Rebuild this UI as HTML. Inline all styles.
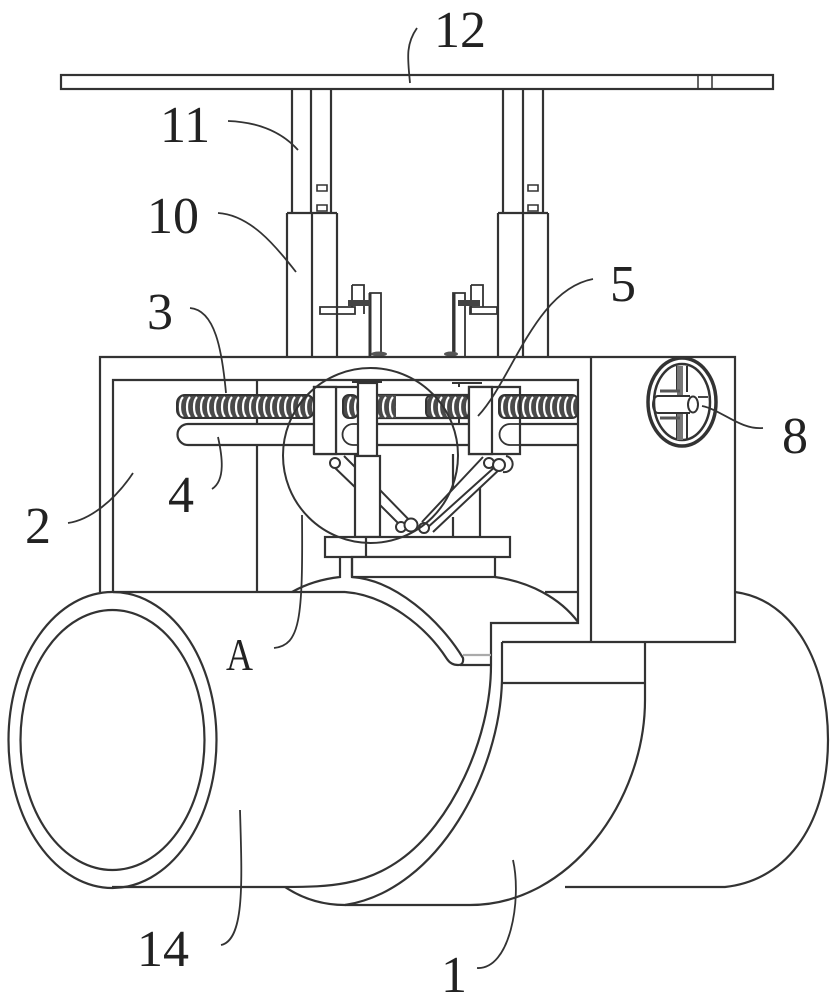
<!DOCTYPE html>
<html>
<head>
<meta charset="utf-8">
<style>
html,body{margin:0;padding:0;background:#fff;}
svg{display:block;}
text{font-family:"Liberation Serif",serif;font-size:52px;fill:#222;}
</style>
</head>
<body>
<svg width="835" height="1000" viewBox="0 0 835 1000" xmlns="http://www.w3.org/2000/svg">
<defs>
<pattern id="coil" patternUnits="userSpaceOnUse" x="177" y="395" width="7" height="24">
<rect width="7" height="24" fill="#4a4a4a"/>
<path d="M6 2C2 6 2 18 6 22" fill="none" stroke="#fff" stroke-width="2.2"/>
</pattern>
</defs>
<rect width="835" height="1000" fill="#fff"/>
<g fill="none" stroke="#333" stroke-width="2.2">
<!-- top plate -->
<rect x="61" y="75" width="712" height="14"/>
<path d="M698 75V89M712 75V89" stroke-width="1.5"/>
<!-- columns -->
<path d="M292 89V213M311 89V213M331 89V213M503 89V213M523 89V213M543 89V213"/>
<path d="M287 213H337M287 213V357M312 213V357M337 213V357M498 213H548M498 213V357M523 213V357M548 213V357"/>
<path d="M317 185h10v6h-10zM317 205h10v6h-10zM528 185h10v6h-10zM528 205h10v6h-10z" stroke-width="1.6"/>
<!-- left bracket -->
<path d="M320 307H355V314H320ZM352 285H364V314M352 285V307M370 357V293H381V357" stroke-width="1.8"/>
<path d="M370 357V293" stroke-width="3"/>
<rect x="348" y="300" width="22" height="6" fill="#444" stroke="none"/>
<ellipse cx="379" cy="354" rx="8" ry="2.5" fill="#555" stroke="none"/>
<!-- right bracket -->
<path d="M470 307H497V314H470ZM471 285H483V307M471 285V314M453 357V293H465V357" stroke-width="1.8"/>
<path d="M454 357V293" stroke-width="3"/>
<rect x="458" y="300" width="22" height="6" fill="#444" stroke="none"/>
<ellipse cx="451" cy="354" rx="7" ry="2.5" fill="#555" stroke="none"/>
<!-- housing -->
<path d="M100 592V357H735V642H502"/>
<path d="M591 357V642"/>
<path d="M113 592V380H578V623H491V665"/>
<path d="M113 592H345"/>
<path d="M545 592H578"/>
<path d="M257 380V395M257 418V424M257 445V592"/>
<!-- rod -->
<path d="M314 424H188A10.500 10.500 0 0 0 188 445H314M358 424H469M358 445H469M520 424H578M520 445H578"/>
<path d="M358 424h-5a10.500 10.500 0 0 0 0 21h5M520 424h-10a10.500 10.500 0 0 0 0 21h10" stroke-width="1.8"/>
<!-- screw -->
<rect x="177" y="395" width="137" height="23" rx="8" fill="url(#coil)" stroke="#333" stroke-width="2"/>
<rect x="343" y="395" width="15" height="23" rx="6" fill="url(#coil)" stroke="#333" stroke-width="2"/>
<path d="M378 395H469M378 418H469"/>
<rect x="378" y="395" width="18" height="23" fill="url(#coil)" stroke="none"/>
<rect x="426" y="395" width="43" height="23" rx="6" fill="url(#coil)" stroke="#333" stroke-width="2"/>
<rect x="499" y="395" width="79" height="23" rx="6" fill="url(#coil)" stroke="#333" stroke-width="2"/>
<!-- nuts -->
<path d="M314 454V387H358M336 387V454M314 454H358"/>
<path d="M314 387H336V454H314Z" fill="#fff"/>
<path d="M469 387H520V454H469Z" fill="none"/>
<path d="M469 387H492V454H469Z" fill="#fff"/>
<path d="M352 382H382M452 383H482M459 383V387M459 418V424" stroke-width="2"/>
<!-- right small column -->
<path d="M453 454V488M453 517V537M480 487V537"/>
<!-- links -->
<path d="M332 465L358 490M344 456L360 472" stroke-width="2"/>
<path d="M380 490L415 526M380 505L403 528" stroke-width="2"/>
<path d="M483 457L422 522M497 465L427 528M502 467L433 532" stroke-width="2"/>
<path d="M506 456A8 8 0 0 1 503 472" stroke-width="2"/>
<g stroke-width="2" fill="#fff">
<circle cx="335" cy="463" r="5"/>
<circle cx="489" cy="463" r="5"/>
<circle cx="499" cy="465" r="6"/>
<circle cx="401" cy="527" r="5"/>
<circle cx="411" cy="525" r="6.500"/>
<circle cx="424" cy="528" r="5"/>
</g>
<!-- center column -->
<rect x="358" y="383" width="19" height="73" fill="#fff"/>
<rect x="355" y="456" width="25" height="81" fill="#fff"/>
<!-- base plates -->
<rect x="325" y="537" width="185" height="20" fill="#fff"/>
<path d="M366 537V557"/>
<rect x="352" y="557" width="143" height="20" fill="#fff"/>
<path d="M340 557V577C322 579 306 584 292 592M352 557V577"/>
<!-- saddle -->
<path d="M352 577C395 580 440 620 463 658Q464 665 458 665Q451 665 447 659C425 625 385 595 345 592"/>
<path d="M495 577C530 582 560 598 578 622"/>
<path d="M460 665H491"/>
<path d="M463 655H491" stroke="#aaa"/>
<!-- main tube -->
<ellipse cx="112.500" cy="740" rx="104" ry="148"/>
<ellipse cx="112.500" cy="740" rx="92" ry="130"/>
<path d="M112 887H285C330 887 365 885 400 860C450 825 491 740 491 665"/>
<path d="M502 642V680C500 770 440 890 345 905C320 905 300 897 285 887"/>
<path d="M502 683H645M645 642V700C645 800 570 905 470 905H345"/>
<path d="M735 592C795 600 828 665 828 740C828 820 790 880 725 887H565"/>
<!-- hand wheel -->
<ellipse cx="682" cy="402" rx="34" ry="44" stroke-width="3.500"/>
<ellipse cx="682" cy="402" rx="28" ry="38" stroke-width="2.500"/>
<path d="M677 366V392M687 366V392M677 414V439M687 414V439" stroke-width="2"/>
<rect x="677" y="366" width="6" height="30" fill="#777" stroke="none"/>
<rect x="677" y="414" width="6" height="26" fill="#777" stroke="none"/>
<path d="M658 396H690M658 413H690" stroke-width="2"/>
<path d="M658 396A5 8.500 0 0 0 658 413" stroke-width="2"/>
<path d="M660 391H680M660 418H680" stroke-width="3" stroke="#555"/>
<ellipse cx="693" cy="404.500" rx="5" ry="8" fill="#fff" stroke-width="2"/>
<path d="M698 397H708" stroke-width="1.800"/>
<!-- detail circle -->
<circle cx="370.500" cy="455.500" r="87.500" stroke-width="2"/>
<!-- leaders -->
<g stroke-width="1.800">
<path d="M410 83C408 60 405 45 417 28"/>
<path d="M228 121C255 122 280 130 298 150"/>
<path d="M218 213C250 215 275 245 296 272"/>
<path d="M190 308C215 310 222 350 226 393"/>
<path d="M478 416C512 380 535 290 593 279"/>
<path d="M702 406C722 410 740 430 763 428"/>
<path d="M68 523C90 520 115 500 133 473"/>
<path d="M218 437C222 455 226 480 212 489"/>
<path d="M274 648C300 645 303 620 302 515"/>
<path d="M221 945C245 940 242 880 240 810"/>
<path d="M477 968C510 970 522 900 513 860"/>
</g>
</g>
<text x="434" y="47">12</text>
<text x="160" y="142">11</text>
<text x="147" y="233">10</text>
<text x="147" y="329">3</text>
<text x="610" y="301">5</text>
<text x="782" y="453">8</text>
<text x="25" y="543">2</text>
<text x="168" y="512">4</text>
<text x="226" y="670" style="font-size:46px" textLength="27" lengthAdjust="spacingAndGlyphs">A</text>
<text x="137" y="966">14</text>
<text x="441" y="992">1</text>
</svg>
</body>
</html>
